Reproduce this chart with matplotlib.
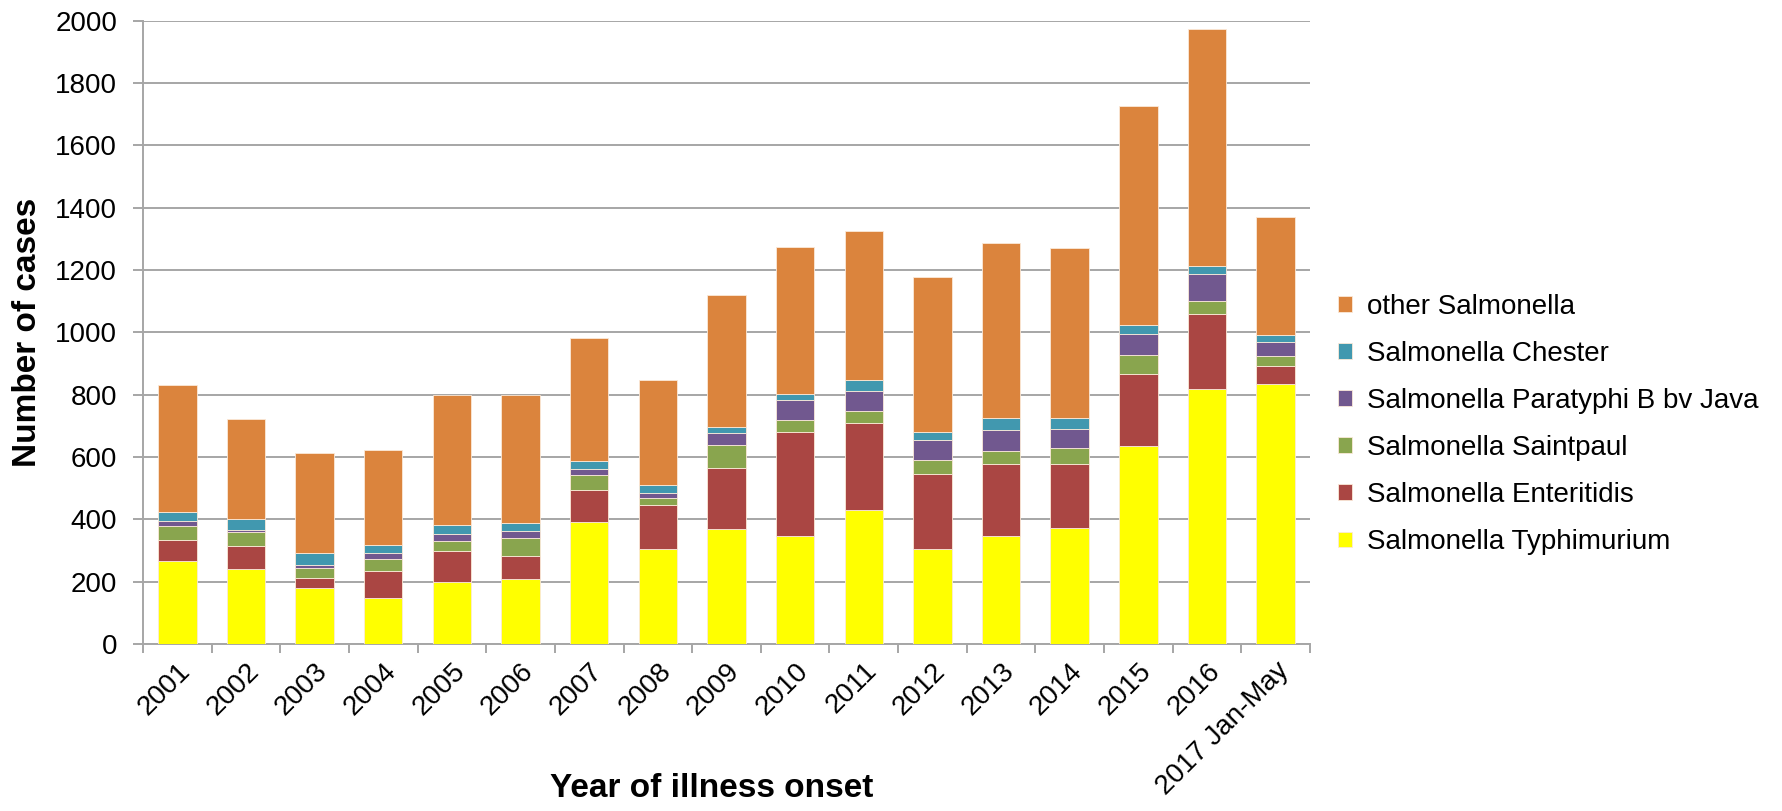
import matplotlib
matplotlib.use("Agg")
import matplotlib.pyplot as plt
import matplotlib.transforms as mtransforms
import numpy as np

years = ["2001", "2002", "2003", "2004", "2005", "2006", "2007", "2008", "2009",
         "2010", "2011", "2012", "2013", "2014", "2015", "2016", "2017 Jan-May"]

typhimurium = [267, 240, 180, 147, 200, 210, 393, 304, 368, 345, 430, 304, 348, 373, 635, 818, 833]
enteritidis = [67, 75, 33, 87, 97, 71, 101, 142, 197, 336, 280, 242, 231, 206, 231, 241, 59]
saintpaul = [45, 45, 31, 39, 32, 60, 48, 22, 74, 37, 37, 45, 41, 51, 60, 41, 31]
paratyphi_java = [15, 7, 11, 19, 24, 22, 19, 15, 37, 64, 64, 63, 67, 61, 68, 87, 46]
chester = [30, 33, 37, 27, 29, 26, 26, 27, 20, 19, 37, 27, 37, 33, 31, 26, 22]
other = [406, 321, 320, 303, 416, 409, 396, 338, 425, 474, 476, 498, 563, 548, 700, 759, 378]

series_names = ["Salmonella Typhimurium", "Salmonella Enteritidis", "Salmonella Saintpaul",
                "Salmonella Paratyphi B bv Java", "Salmonella Chester", "other Salmonella"]
series_values = [typhimurium, enteritidis, saintpaul, paratyphi_java, chester, other]
series_colors = ["#FFFF00", "#AA4643", "#89A54E", "#71588F", "#4198AF", "#DB843D"]

plt.rcParams["font.family"] = ["Liberation Sans", "DejaVu Sans"]

fig = plt.figure(figsize=(17.83, 8.11), dpi=100)
ax = fig.add_axes([0.0802, 0.2059, 0.6545, 0.7686])

x = np.arange(len(years))
bottom = np.zeros(len(years))
handles = []
for name, vals, col in zip(series_names, series_values, series_colors):
    vals = np.array(vals, dtype=float)
    b = ax.bar(x, vals, width=0.56, bottom=bottom, color=col, label=name,
               edgecolor="#FBE9D8", linewidth=0.6, zorder=3)
    handles.append(b)
    bottom += vals

ax.set_xlim(-0.5, len(years) - 0.5)
ax.set_ylim(0, 2000)
ax.set_yticks(np.arange(0, 2001, 200))
ax.yaxis.grid(True, color="#A6A6A6", linewidth=1.4, zorder=0)
ax.set_axisbelow(True)

for s in ["top", "right"]:
    ax.spines[s].set_visible(False)
for s in ["left", "bottom"]:
    ax.spines[s].set_color("#A6A6A6")
    ax.spines[s].set_linewidth(1.4)

# category ticks sit between the bars
ax.set_xticks(np.arange(-0.5, len(years), 1.0), minor=False)
ax.set_xticklabels([])
ax.set_xticks(x, minor=True)
ax.set_xticklabels(years, minor=True, rotation=45, ha="right", va="top",
                   rotation_mode="anchor", fontsize=20)
shift = mtransforms.ScaledTranslation(-4 / 100, 0, fig.dpi_scale_trans)
for lbl in ax.get_xticklabels(minor=True):
    lbl.set_transform(lbl.get_transform() + shift)
ax.tick_params(axis="x", which="major", length=6.5, width=1.4, color="#A6A6A6", direction="out")
ax.tick_params(axis="x", which="minor", length=0, pad=10)
ax.tick_params(axis="y", length=7.2, width=1.4, color="#A6A6A6", labelsize=20, pad=11.5)

ax.set_ylabel("Number of cases", fontsize=24, fontweight="bold")
ax.yaxis.set_label_coords(-0.0855, 0.5)
ax.set_xlabel("Year of illness onset", fontsize=24, fontweight="bold")
ax.xaxis.set_label_coords(0.487, -0.207)

leg = ax.legend(handles[::-1], series_names[::-1], loc="center left",
                bbox_to_anchor=(1.003, 0.352), frameon=False, fontsize=20,
                handlelength=0.5, handleheight=0.5, handletextpad=0.54,
                labelspacing=0.76)

fig.savefig("out.png", dpi=100)
